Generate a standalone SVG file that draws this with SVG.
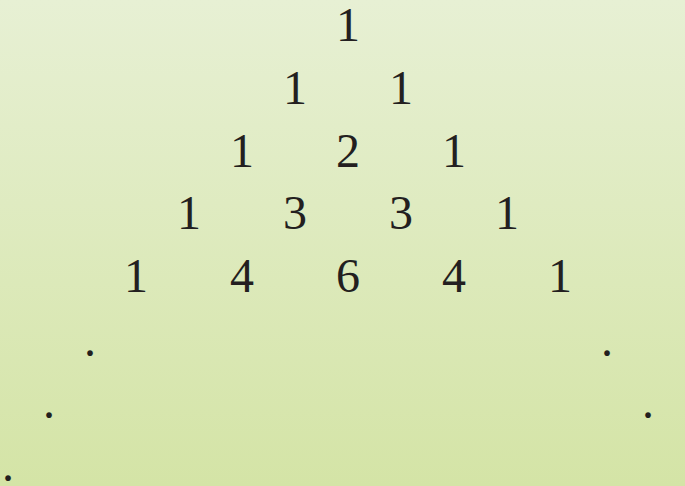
<svg xmlns="http://www.w3.org/2000/svg" width="685" height="486" viewBox="0 0 685 486">
<defs>
<linearGradient id="bg" x1="0" y1="0" x2="0" y2="1">
<stop offset="0" stop-color="#e7f0d4"/>
<stop offset="1" stop-color="#d4e4a6"/>
</linearGradient>
<style>
text{font-family:"Liberation Serif","Times New Roman",serif;font-size:48px;fill:#231f20;text-anchor:middle}
</style>
</defs>
<rect width="685" height="486" fill="url(#bg)"/>
<g id="row1"><text x="348" y="40.5">1</text></g>
<g id="row2"><text x="295" y="103.5">1</text><text x="401" y="103.5">1</text></g>
<g id="row3"><text x="242" y="166.5">1</text><text x="348" y="166.5">2</text><text x="454" y="166.5">1</text></g>
<g id="row4"><text x="189" y="229">1</text><text x="295" y="229">3</text><text x="401" y="229">3</text><text x="507" y="229">1</text></g>
<g id="row5"><text x="136" y="292">1</text><text x="242" y="292">4</text><text x="348" y="292">6</text><text x="454" y="292">4</text><text x="560" y="292">1</text></g>
<g id="dots">
<text x="90" y="355.5">.</text><text x="607" y="355.5">.</text>
<text x="49" y="417.5">.</text><text x="648" y="417.5">.</text>
<text x="8" y="480.5">.</text>
</g>
</svg>
